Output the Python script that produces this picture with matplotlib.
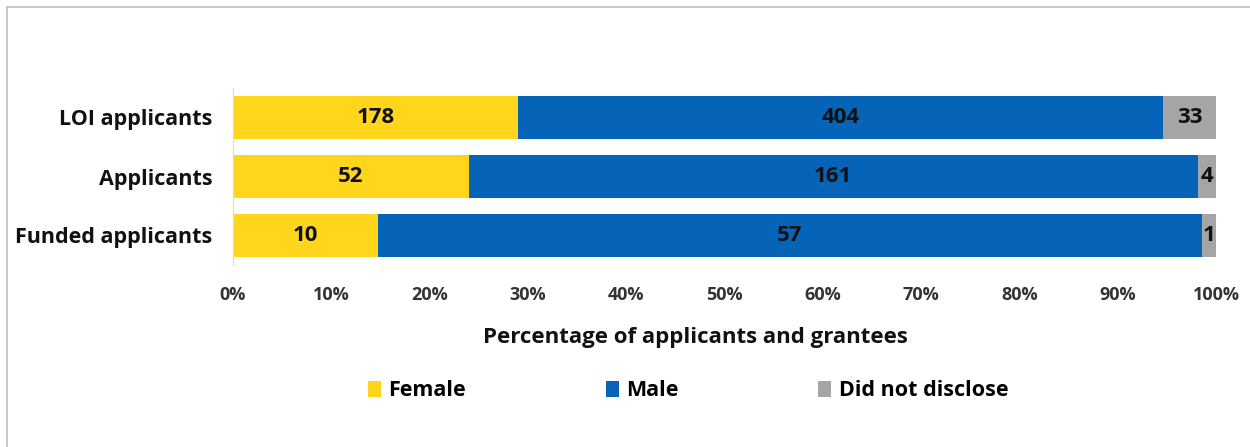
import matplotlib
matplotlib.use("Agg")
import matplotlib.pyplot as plt
import numpy as np
from matplotlib.patches import Rectangle, Patch

categories = ["LOI applicants", "Applicants", "Funded applicants"]
series_names = ["Female", "Male", "Did not disclose"]
female = [178, 52, 10]
male = [404, 161, 57]
undisclosed = [33, 4, 1]
xticklabels = ["0%", "10%", "20%", "30%", "40%", "50%", "60%", "70%", "80%", "90%", "100%"]
colors = ["#FFD61C", "#0563B8", "#A5A5A5"]

plt.rcParams['font.family'] = ['Open Sans', 'DejaVu Sans']

fig = plt.figure(figsize=(12.5, 4.47), dpi=100)
# outer border
fig.patches.append(Rectangle((7/1250, -0.1), 1.2, 1 - 7/447 + 0.1, transform=fig.transFigure,
                             fill=False, edgecolor="#BFBFBF", linewidth=1.2))

ax = fig.add_axes([233/1250, 1 - 265/447, (1216 - 233)/1250, (265 - 88)/447])

data = np.array([female, male, undisclosed], dtype=float)
totals = data.sum(axis=0)
pct = data / totals * 100
y = np.arange(len(categories))
left = np.zeros(len(categories))
for i, name in enumerate(series_names):
    bars = ax.barh(y, pct[i], left=left, height=0.72, color=colors[i], label=name,
                   edgecolor="none")
    ax.bar_label(bars, labels=[str(int(v)) for v in data[i]], label_type="center",
                 fontsize=16, fontweight="bold", color="#111111")
    left += pct[i]

ax.set_xlim(0, 100)
ax.set_ylim(2.5, -0.5)
ax.set_yticks(y)
ax.set_yticklabels(categories, fontsize=15.5, fontweight="bold", color="#111111")
ax.set_xticks(np.arange(0, 101, 10))
ax.set_xticklabels(xticklabels, fontsize=13, fontweight="bold", color="#333333")
ax.tick_params(axis="both", length=0)
ax.tick_params(axis="y", pad=15)
ax.tick_params(axis="x", pad=15)
for s in ["top", "right", "bottom"]:
    ax.spines[s].set_visible(False)
ax.spines["left"].set_color("#D9D9D9")
ax.set_xlabel("Percentage of applicants and grantees", fontsize=16, fontweight="bold",
              color="#111111")
ax.xaxis.set_label_coords((695 - 233) / 983, -(338 - 265) / 177, transform=ax.transAxes)
ax.xaxis.label.set_va("center")

handles = [Patch(facecolor=c, edgecolor="none") for c in colors]
fig.legend(handles, series_names, loc="center", bbox_to_anchor=(688/1250, 1 - 391/447),
           ncol=3, frameon=False, prop={"size": 15.5, "weight": "bold"},
           handlelength=0.6, handleheight=0.75, handletextpad=0.35, columnspacing=6.5)

fig.savefig("out.png", dpi=100)
